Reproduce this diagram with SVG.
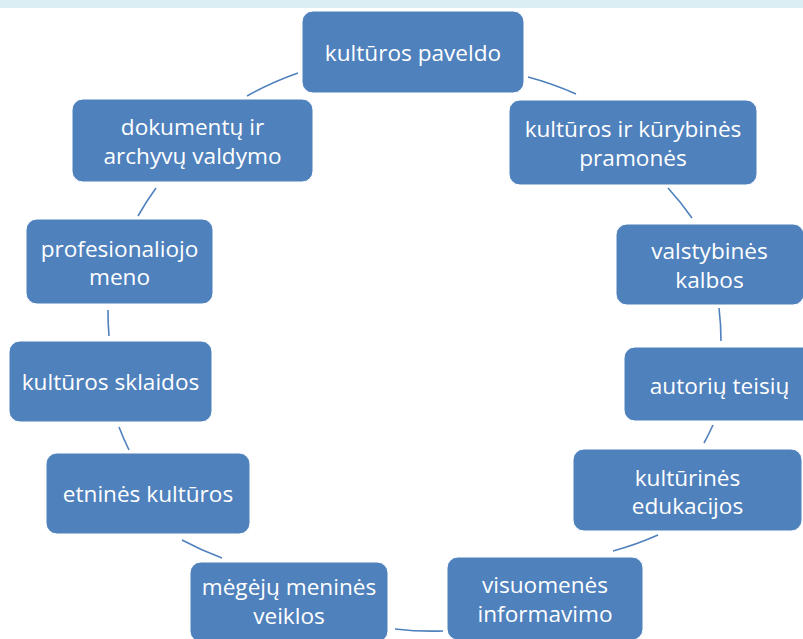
<svg xmlns="http://www.w3.org/2000/svg" width="803" height="639" viewBox="0 0 803 639">
<style>
.n{fill:#4F81BD;stroke:#FFFFFF;stroke-width:1}
.t{fill:#FFFFFF;font-family:"Open Sans","Noto Sans","Liberation Sans",sans-serif;font-size:22.6px;text-anchor:middle}
.c{fill:none;stroke:#4F81BD;stroke-width:1.6}
</style>
<rect x="0" y="0" width="803" height="8" fill="#DBEEF4"/>
<g id="connectors">
<path class="c" d="M528,77 A306,289 0 0 1 576,94"/>
<path class="c" d="M668,188 A306,289 0 0 1 692,218"/>
<path class="c" d="M719,308 A306,289 0 0 1 721,341"/>
<path class="c" d="M713,425 A306,289 0 0 1 704,443"/>
<path class="c" d="M658,535 A306,289 0 0 1 613,551"/>
<path class="c" d="M443,631 A306,289 0 0 1 395,629"/>
<path class="c" d="M222,558 A306,289 0 0 1 182,540"/>
<path class="c" d="M129,450 A306,289 0 0 1 119,427"/>
<path class="c" d="M109,336 A306,289 0 0 1 108,310"/>
<path class="c" d="M138,216 A306,289 0 0 1 156,188"/>
<path class="c" d="M247,96 A306,289 0 0 1 298,73"/>
</g>
<g id="n1"><rect class="n" x="302" y="11" width="222" height="82" rx="11"/><text class="t" x="413" y="61">kultūros paveldo</text></g>
<g id="n2"><rect class="n" x="509" y="100" width="248" height="85" rx="11"/><text class="t" x="633" y="137">kultūros ir kūrybinės</text><text class="t" x="633" y="166">pramonės</text></g>
<g id="n3"><rect class="n" x="616" y="224" width="188" height="81" rx="11"/><text class="t" x="709.5" y="259">valstybinės</text><text class="t" x="709.5" y="288">kalbos</text></g>
<g id="n4"><rect class="n" x="624" y="347" width="191" height="74" rx="11"/><text class="t" x="719.5" y="394">autorių teisių</text></g>
<g id="n5"><rect class="n" x="573" y="449" width="229" height="82" rx="11"/><text class="t" x="687.5" y="486">kultūrinės</text><text class="t" x="687.5" y="514">edukacijos</text></g>
<g id="n6"><rect class="n" x="447" y="557" width="196" height="83" rx="11"/><text class="t" x="545" y="593">visuomenės</text><text class="t" x="545" y="622">informavimo</text></g>
<g id="n7"><rect class="n" x="190" y="562" width="198" height="80" rx="11"/><text class="t" x="289" y="595">mėgėjų meninės</text><text class="t" x="289" y="624">veiklos</text></g>
<g id="n8"><rect class="n" x="46" y="453" width="204" height="81" rx="11"/><text class="t" x="148" y="502">etninės kultūros</text></g>
<g id="n9"><rect class="n" x="9" y="341" width="203" height="81" rx="11"/><text class="t" x="110.5" y="390">kultūros sklaidos</text></g>
<g id="n10"><rect class="n" x="26" y="219" width="187" height="85" rx="11"/><text class="t" x="119.5" y="257">profesionaliojo</text><text class="t" x="119.5" y="285">meno</text></g>
<g id="n11"><rect class="n" x="72" y="99" width="241" height="83" rx="11"/><text class="t" x="192.5" y="135">dokumentų ir</text><text class="t" x="192.5" y="164">archyvų valdymo</text></g>
</svg>
